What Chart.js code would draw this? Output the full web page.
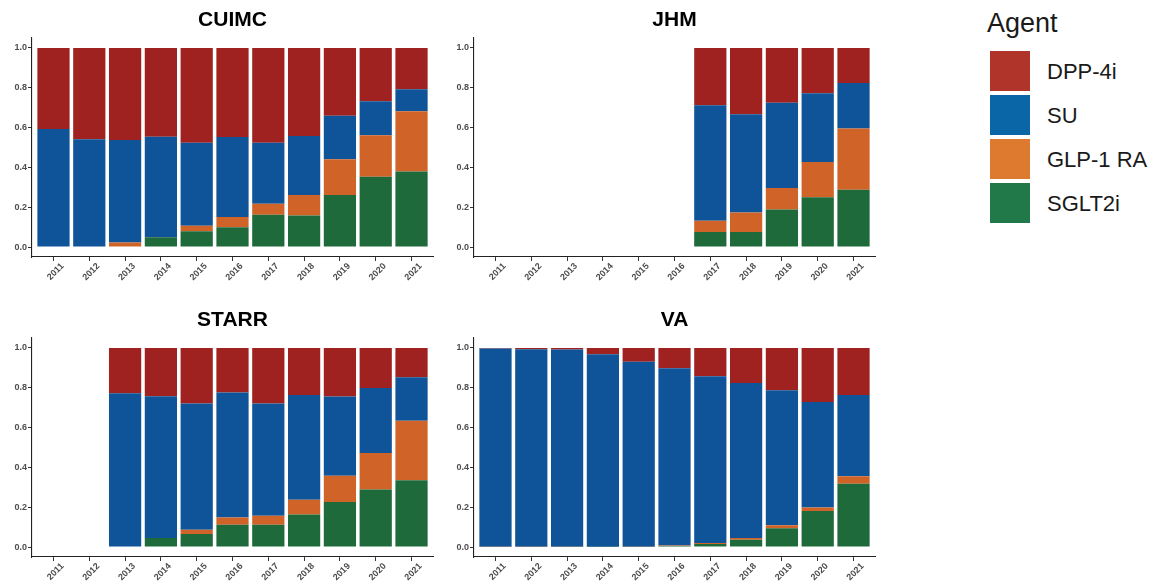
<!DOCTYPE html>
<html>
<head>
<meta charset="utf-8">
<script src="https://cdn.jsdelivr.net/npm/chart.js@4.4.1/dist/chart.umd.min.js"></script>
<style>
  html, body { margin: 0; padding: 0; background: #ffffff; }
  #wrap { position: relative; width: 1154px; height: 581px; overflow: hidden; font-family: "Liberation Sans", Arial, sans-serif; }
  canvas { position: absolute; }
  .legend-title { position: absolute; left: 987px; top: 10px; font-size: 27px; line-height: 27px; color: #1a1a1a; }
  .legend-row { position: absolute; left: 990px; height: 40px; }
  .swatch { position: absolute; left: 0; top: 0; width: 40px; height: 40px; }
  .legend-label { position: absolute; left: 57px; top: 10px; font-size: 22px; line-height: 22px; color: #1a1a1a; white-space: nowrap; }
</style>
</head>
<body>
<div id="wrap">
  <canvas id="cuimc" width="443" height="290" style="left:0px;top:0px"></canvas>
  <canvas id="jhm" width="443" height="290" style="left:442px;top:0px"></canvas>
  <canvas id="starr" width="443" height="290" style="left:0px;top:300px"></canvas>
  <canvas id="va" width="443" height="290" style="left:442px;top:300px"></canvas>
  <div id="legend"></div>
</div>
<script>
// Study years shown on every panel
const years = [2011, 2012, 2013, 2014, 2015, 2016, 2017, 2018, 2019, 2020, 2021];
const yTicks = [0, 0.2, 0.4, 0.6, 0.8, 1.0];

// Agent names, bottom of the stack first
const agents = ['SGLT2i', 'GLP-1 RA', 'SU', 'DPP-4i'];
// Legend order (top to bottom)
const legendAgents = ['DPP-4i', 'SU', 'GLP-1 RA', 'SGLT2i'];

// Share of new prescriptions by agent and year (null = no data that year)
const cuimcSGLT2 = [0, 0, 0, 0.049, 0.079, 0.100, 0.162, 0.159, 0.261, 0.353, 0.380];
const cuimcGLP1  = [0, 0, 0.023, 0, 0.028, 0.051, 0.056, 0.102, 0.180, 0.208, 0.302];
const cuimcSU    = [0.593, 0.541, 0.515, 0.505, 0.417, 0.402, 0.306, 0.297, 0.219, 0.171, 0.110];
const cuimcDPP4  = [0.407, 0.459, 0.462, 0.446, 0.476, 0.447, 0.476, 0.442, 0.340, 0.268, 0.208];

const jhmSGLT2 = [null, null, null, null, null, null, 0.075, 0.075, 0.189, 0.250, 0.288];
const jhmGLP1  = [null, null, null, null, null, null, 0.057, 0.098, 0.107, 0.177, 0.307];
const jhmSU    = [null, null, null, null, null, null, 0.580, 0.494, 0.429, 0.345, 0.229];
const jhmDPP4  = [null, null, null, null, null, null, 0.288, 0.333, 0.275, 0.228, 0.176];

const starrSGLT2 = [null, null, 0, 0.045, 0.065, 0.112, 0.112, 0.164, 0.226, 0.289, 0.336];
const starrGLP1  = [null, null, 0, 0, 0.022, 0.037, 0.045, 0.073, 0.132, 0.183, 0.298];
const starrSU    = [null, null, 0.773, 0.713, 0.634, 0.627, 0.564, 0.527, 0.398, 0.327, 0.219];
const starrDPP4  = [null, null, 0.227, 0.242, 0.279, 0.224, 0.279, 0.236, 0.244, 0.201, 0.147];

const vaSGLT2 = [0, 0, 0, 0.002, 0, 0.005, 0.015, 0.037, 0.094, 0.181, 0.318];
const vaGLP1  = [0.002, 0.002, 0.002, 0, 0.002, 0.003, 0.005, 0.008, 0.015, 0.018, 0.037];
const vaSU    = [0.995, 0.991, 0.990, 0.966, 0.929, 0.890, 0.838, 0.779, 0.679, 0.530, 0.409];
const vaDPP4  = [0.003, 0.007, 0.008, 0.032, 0.069, 0.102, 0.142, 0.176, 0.212, 0.271, 0.236];

// Fill colours
const barColors = {
  'SGLT2i': '#1e6a3b',
  'GLP-1 RA': '#d06428',
  'SU': '#0f5499',
  'DPP-4i': '#9f2220'
};
const keyColors = {
  'SGLT2i': '#217849',
  'GLP-1 RA': '#de7a30',
  'SU': '#0b66a8',
  'DPP-4i': '#b0342a'
};

const FONT = '"Liberation Sans", Arial, sans-serif';
const tickFont = { family: FONT, size: 9, weight: 'bold' };
const tickColor = '#4d4d4d';

function makePanel(id, title, series) {
  const datasets = agents.map((name, k) => ({
    label: name,
    data: years.map((yr, i) => ({ x: yr, y: series[k][i] })),
    backgroundColor: barColors[name],
    borderWidth: 0,
    barPercentage: 0.9,
    categoryPercentage: 1.0
  }));

  new Chart(document.getElementById(id), {
    type: 'bar',
    data: { datasets },
    options: {
      responsive: false,
      animation: false,
      events: [],
      layout: { padding: { left: 0, right: 10, top: 0, bottom: 0 } },
      plugins: {
        legend: { display: false },
        tooltip: { enabled: false },
        title: {
          display: true,
          text: title,
          fullSize: false,
          color: '#000000',
          font: { family: FONT, size: 21, weight: 'bold' },
          padding: { top: 7.4, bottom: 5.4 }
        }
      },
      scales: {
        x: {
          type: 'linear',
          stacked: true,
          offset: false,
          min: 2010.4,
          max: 2021.6,
          afterBuildTicks: (s) => { s.ticks = years.map(v => ({ value: v })); },
          afterFit: (s) => { s.height = 33; },
          grid: { display: true, offset: false, drawOnChartArea: false, drawTicks: true, tickLength: 4, color: '#333333', lineWidth: 1 },
          border: { display: true, color: '#222222', width: 1.1 },
          ticks: {
            autoSkip: false,
            minRotation: 45,
            maxRotation: 45,
            labelOffset: 9,
            padding: 0,
            font: tickFont,
            color: tickColor,
            callback: (v) => String(v)
          }
        },
        y: {
          type: 'linear',
          stacked: true,
          min: -0.05,
          max: 1.05,
          afterBuildTicks: (s) => { s.ticks = yTicks.map(v => ({ value: v })); },
          afterFit: (s) => { s.width = 32; },
          grid: { display: true, drawOnChartArea: false, drawTicks: true, tickLength: 4, color: '#333333', lineWidth: 1 },
          border: { display: true, color: '#222222', width: 1.1 },
          ticks: {
            padding: 1,
            font: tickFont,
            color: tickColor,
            callback: (v) => Number(v).toFixed(1)
          }
        }
      }
    }
  });
}

makePanel('cuimc', 'CUIMC', [cuimcSGLT2, cuimcGLP1, cuimcSU, cuimcDPP4]);
makePanel('jhm', 'JHM', [jhmSGLT2, jhmGLP1, jhmSU, jhmDPP4]);
makePanel('starr', 'STARR', [starrSGLT2, starrGLP1, starrSU, starrDPP4]);
makePanel('va', 'VA', [vaSGLT2, vaGLP1, vaSU, vaDPP4]);

// Shared legend for the four panels
const legend = document.getElementById('legend');
const head = document.createElement('div');
head.className = 'legend-title';
head.textContent = 'Agent';
legend.appendChild(head);
legendAgents.forEach((name, i) => {
  const row = document.createElement('div');
  row.className = 'legend-row';
  row.style.top = (50.7 + i * 44.2) + 'px';
  const sw = document.createElement('div');
  sw.className = 'swatch';
  sw.style.background = keyColors[name];
  const lab = document.createElement('div');
  lab.className = 'legend-label';
  lab.textContent = name;
  row.appendChild(sw);
  row.appendChild(lab);
  legend.appendChild(row);
});
</script>
</body>
</html>
